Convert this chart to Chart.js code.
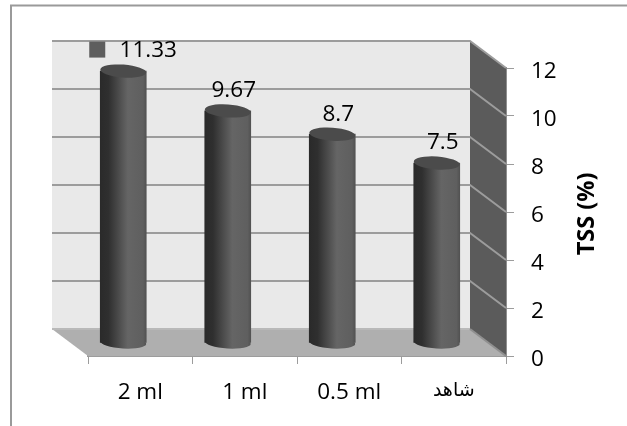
<!DOCTYPE html>
<html><head><meta charset="utf-8">
<style>html,body{margin:0;padding:0;background:#fff}canvas{display:block}</style>
<script src="https://cdn.jsdelivr.net/npm/chart.js@4"></script></head>
<body><div style="width:627px;height:426px"><canvas id="c" width="627" height="426"></canvas></div>
<script>
const categories = ['2 ml', '1 ml', '0.5 ml', 'شاهد'];
const seriesValues = [11.33, 9.67, 8.7, 7.5];
const valueLabels = ['11.33', '9.67', '8.7', '7.5'];
const yMax = 12, yStep = 2;
const yTitle = 'TSS (%)';
const FONT = "'Open Sans','DejaVu Sans',sans-serif";
const BACK = {dx:-36, dy:-27}, MID = {dx:-17, dy:-13};

const scene = {
  id:'scene',
  beforeDraw(chart){
    const c = chart.ctx;
    c.save(); c.strokeStyle='#9a9a9a'; c.lineWidth=2;
    c.beginPath(); c.moveTo(11,426); c.lineTo(11,5.5); c.lineTo(627,5.5); c.stroke(); c.restore();
  },
  beforeDatasetsDraw(chart){
    const c = chart.ctx, {left:l,right:r,top:t,bottom:b} = chart.chartArea, y = chart.scales.y;
    const d = BACK;
    c.save();
    c.fillStyle='#e9e9e9'; c.fillRect(l+d.dx,t+d.dy,r-l,b-t);
    c.fillStyle='#5b5b5b';
    c.beginPath(); c.moveTo(r+d.dx,t+d.dy); c.lineTo(r,t); c.lineTo(r,b); c.lineTo(r+d.dx,b+d.dy); c.closePath(); c.fill();
    c.fillStyle='#afafaf';
    c.beginPath(); c.moveTo(l+d.dx,b+d.dy); c.lineTo(r+d.dx,b+d.dy); c.lineTo(r,b); c.lineTo(l,b); c.closePath(); c.fill();
    c.strokeStyle='#9c9c9c'; c.lineWidth=2;
    for(let v=yStep;v<=yMax;v+=yStep){
      const p=y.getPixelForValue(v);
      c.beginPath(); c.moveTo(l+d.dx,p+d.dy); c.lineTo(r+d.dx,p+d.dy); c.lineTo(r,p); c.stroke();
    }
    c.strokeStyle='#b9b9b9'; c.beginPath(); c.moveTo(l+d.dx,b+d.dy); c.lineTo(r+d.dx,b+d.dy); c.stroke();
    c.strokeStyle='#8f8f8f';
    c.beginPath(); c.moveTo(r+d.dx,b+d.dy); c.lineTo(r,b); c.stroke();
    c.restore();
  },
  beforeDatasetDraw(chart,args){
    const c = chart.ctx;
    args.meta.data.forEach(el=>{
      const g=c.createLinearGradient(el.x-el.width/2,0,el.x+el.width/2,0);
      g.addColorStop(0,'#2a2a2a'); g.addColorStop(0.18,'#2f2f2f'); g.addColorStop(0.6,'#656565'); g.addColorStop(0.93,'#5f5f5f'); g.addColorStop(1,'#525252');
      el.options.backgroundColor=g;
    });
    c.save(); c.translate(MID.dx,MID.dy);
    args.meta.data.forEach(el=>{
      c.fillStyle=el.options.backgroundColor;
      c.beginPath(); c.ellipse(el.x,el.base,el.width/2,6,0.06,0,Math.PI*2); c.fill();
    });
  },
  afterDatasetDraw(chart,args){
    const c = chart.ctx;
    args.meta.data.forEach(el=>{
      c.fillStyle='#4b4b4b';
      c.beginPath(); c.ellipse(el.x,el.y,el.width/2,6.5,0.07,0,Math.PI*2); c.fill();
    });
    c.restore();
  },
  afterDatasetsDraw(chart){
    const c = chart.ctx, meta = chart.getDatasetMeta(0);
    c.save();
    c.font='22.5px '+FONT; c.fillStyle='#000'; c.textAlign='center'; c.textBaseline='middle';
    meta.data.forEach((el,i)=>{
      const cx = el.x+MID.dx+(i===0?25:6), cy = el.y+MID.dy-20;
      c.fillText(valueLabels[i],cx,cy);
      if(i===0){ c.fillStyle='#5e5e5e'; c.fillRect(cx-59,cy-9.5,16,16); c.fillStyle='#000'; }
    });
    c.translate(587,214); c.rotate(-Math.PI/2);
    c.font='bold 23.5px '+FONT;
    c.fillText(yTitle,0,0);
    c.restore();
  }
};

new Chart(document.getElementById('c'),{
  type:'bar',
  data:{labels:categories,datasets:[{
    data:seriesValues,
    borderWidth:0,
    barThickness:46,
    backgroundColor:()=>'#555555'
  }]},
  options:{
    responsive:false,animation:false,
    layout:{padding:{left:88,top:68,right:0,bottom:0}},
    plugins:{legend:{display:false},tooltip:{enabled:false},title:{display:false}},
    scales:{
      x:{z:1,afterFit(s){s.height=70;},
        grid:{drawOnChartArea:false,drawTicks:true,tickLength:8,color:'#9c9c9c',lineWidth:1},
        border:{display:true,color:'#9c9c9c',width:2},
        ticks:{color:'#000',font:ctx=>({family:FONT,size:ctx.index===3?19:22.5}),padding:15,maxRotation:0}},
      y:{z:1,position:'right',min:0,max:yMax,afterFit(s){s.width=121;},
        grid:{drawOnChartArea:false,drawTicks:true,tickLength:8,color:'#9c9c9c',lineWidth:1},
        border:{display:true,color:'#8f8f8f',width:2},
        ticks:{stepSize:yStep,color:'#000',font:{family:FONT,size:22.5},padding:17,labelOffset:3.5,crossAlign:'near'}}
    }
  },
  plugins:[scene]
});
</script></body></html>
